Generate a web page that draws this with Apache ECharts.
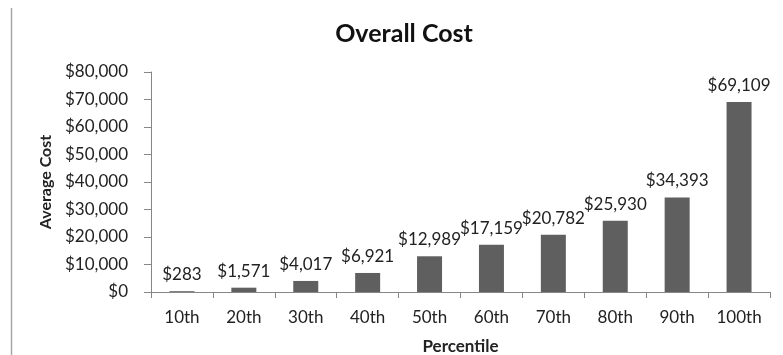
<!DOCTYPE html>
<html>
<head>
<meta charset="utf-8">
<script src="https://cdn.jsdelivr.net/npm/echarts@6/dist/echarts.min.js"></script>
<style>html,body{margin:0;padding:0;background:#fff;}#c{width:783px;height:355px;}</style>
</head>
<body>
<div id="c"></div>
<script>
const categories = ['10th','20th','30th','40th','50th','60th','70th','80th','90th','100th'];
const avgCost = [283, 1571, 4017, 6921, 12989, 17159, 20782, 25930, 34393, 69109];
const yTicks = { min: 0, max: 80000, interval: 10000 };

function money(v) {
  return '$' + String(Math.round(v)).replace(/\B(?=(\d{3})+(?!\d))/g, ',');
}
const FONT = 'Lato, "Open Sans", sans-serif';
const chart = echarts.init(document.getElementById('c'), null, { renderer: 'canvas' });
chart.setOption({
  backgroundColor: '#fff',
  animation: false,
  title: {
    text: 'Overall Cost', left: 399, top: 16, textAlign: 'center',
    textStyle: { fontFamily: FONT, fontSize: 25, fontWeight: 'bold', color: '#111' }
  },
  graphic: [{
    type: 'line', shape: { x1: 11.5, y1: 8, x2: 11.5, y2: 355 },
    style: { stroke: '#a8a8a8', lineWidth: 1.5 }
  }],
  grid: { left: 151, right: 13, top: 72, bottom: 63, containLabel: false, outerBoundsMode: 'none' },
  xAxis: {
    type: 'category', data: categories,
    name: 'Percentile', nameLocation: 'middle', nameGap: 46,
    nameTextStyle: { fontFamily: FONT, fontSize: 17, fontWeight: 'bold', color: '#222' },
    axisLine: { lineStyle: { color: '#868686', width: 1 } },
    axisTick: { show: true, length: 6, lineStyle: { color: '#868686' } },
    axisLabel: { fontFamily: FONT, fontSize: 17, color: '#222', margin: 17 }
  },
  yAxis: {
    type: 'value', min: yTicks.min, max: yTicks.max, interval: yTicks.interval,
    name: 'Average Cost', nameLocation: 'middle', nameGap: 93, nameRotate: 90,
    nameTextStyle: { fontFamily: FONT, fontSize: 16, fontWeight: 'bold', color: '#222' },
    axisLine: { show: true, lineStyle: { color: '#868686', width: 1 } },
    axisTick: { show: true, length: 7, lineStyle: { color: '#868686' } },
    splitLine: { show: false },
    axisLabel: { fontFamily: FONT, fontSize: 17, color: '#222', margin: 23, formatter: money }
  },
  series: [{
    type: 'bar', data: avgCost, barWidth: 25,
    itemStyle: { color: '#5f5f5f' },
    label: {
      show: true, position: 'top', distance: 8,
      fontFamily: FONT, fontSize: 17, color: '#222',
      formatter: p => money(p.value)
    }
  }]
});
</script>
</body>
</html>
